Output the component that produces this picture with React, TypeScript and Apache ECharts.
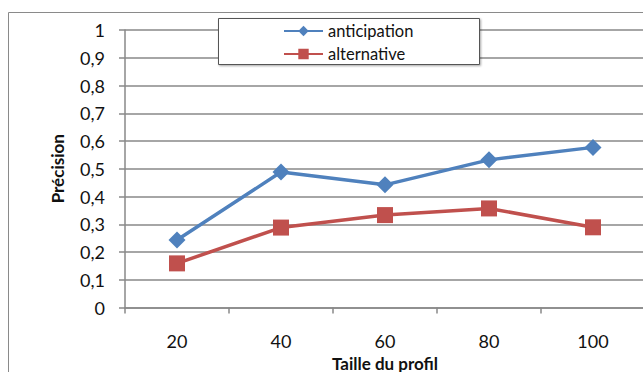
import React, { useEffect, useRef } from "react";
import * as echarts from "echarts";

const categories = ["20", "40", "60", "80", "100"];
const anticipation = [0.243, 0.488, 0.442, 0.532, 0.577];
const alternative = [0.159, 0.288, 0.333, 0.357, 0.289];
const seriesNames = ["anticipation", "alternative"];
const xTitle = "Taille du profil";
const yTitle = "Précision";

const FONT = "Lato, 'Open Sans', sans-serif";

export default function App() {
  const ref = useRef<HTMLDivElement>(null);
  useEffect(() => {
    if (!ref.current) return;
    const chart = echarts.init(ref.current, undefined, { renderer: "svg" });
    const grey = "#898989";
    chart.setOption({
      animation: false,
      backgroundColor: "#ffffff",
      textStyle: { fontFamily: FONT },
      grid: {
        left: 125,
        top: 30,
        width: 520,
        height: 277.5,
        containLabel: false,
        outerBoundsMode: "none",
      },
      graphic: [
        {
          type: "rect",
          z: 0,
          silent: true,
          shape: { x: 8.5, y: 12.5, width: 700, height: 400 },
          style: { fill: "none", stroke: "#8a8a8a", lineWidth: 1 },
        },
        {
          type: "rect",
          z: 10,
          silent: true,
          shape: { x: 218.5, y: 18.5, width: 261, height: 46 },
          style: {
            fill: "#ffffff",
            stroke: "#555555",
            lineWidth: 1,
            shadowColor: "rgba(0,0,0,0.35)",
            shadowBlur: 2,
            shadowOffsetX: 1,
            shadowOffsetY: 1,
          },
        },
      ],
      legend: {
        z: 20,
        orient: "vertical",
        left: 283,
        top: 22,
        padding: 0,
        itemGap: 5,
        itemWidth: 39,
        itemHeight: 13,
        data: seriesNames,
        textStyle: { fontFamily: FONT, fontSize: 16.5, color: "#111", lineHeight: 18 },
      },
      xAxis: {
        type: "category",
        data: categories,
        boundaryGap: true,
        name: xTitle,
        nameLocation: "middle",
        nameGap: 47,
        nameTextStyle: { fontFamily: FONT, fontSize: 17, fontWeight: "bold", color: "#111" },
        axisLine: { show: true, lineStyle: { color: grey, width: 1.5 } },
        axisTick: { show: true, length: 6, lineStyle: { color: grey, width: 1.5 } },
        axisLabel: { margin: 24, fontFamily: FONT, fontSize: 18, color: "#111" },
        splitLine: { show: false },
      },
      yAxis: {
        type: "value",
        min: 0,
        max: 1,
        interval: 0.1,
        name: yTitle,
        nameLocation: "middle",
        nameGap: 59,
        nameRotate: 90,
        nameTextStyle: { fontFamily: FONT, fontSize: 17, fontWeight: "bold", color: "#111" },
        axisLine: { show: true, lineStyle: { color: grey, width: 1.5 } },
        axisTick: { show: true, length: 6, lineStyle: { color: grey, width: 1.5 } },
        axisLabel: {
          margin: 20,
          fontFamily: FONT,
          fontSize: 18,
          color: "#111",
          formatter: (v: number) =>
            v === 0 ? "0" : v === 1 ? "1" : v.toFixed(1).replace(".", ","),
        },
        splitLine: { show: true, lineStyle: { color: grey, width: 1.5 } },
      },
      series: [
        {
          name: seriesNames[0],
          type: "line",
          data: anticipation,
          symbol: "diamond",
          symbolSize: 17,
          color: "#4F81BD",
          lineStyle: { width: 3.5, color: "#4F81BD" },
          itemStyle: { color: "#4F81BD" },
          z: 3,
        },
        {
          name: seriesNames[1],
          type: "line",
          data: alternative,
          symbol: "rect",
          symbolSize: 16,
          color: "#C0504D",
          lineStyle: { width: 3.5, color: "#C0504D" },
          itemStyle: { color: "#C0504D" },
          z: 3,
        },
      ],
    });
    return () => chart.dispose();
  }, []);
  return (
    <div
      ref={ref}
      style={{ position: "fixed", left: 0, top: 0, width: 643, height: 372, overflow: "hidden" }}
    />
  );
}
